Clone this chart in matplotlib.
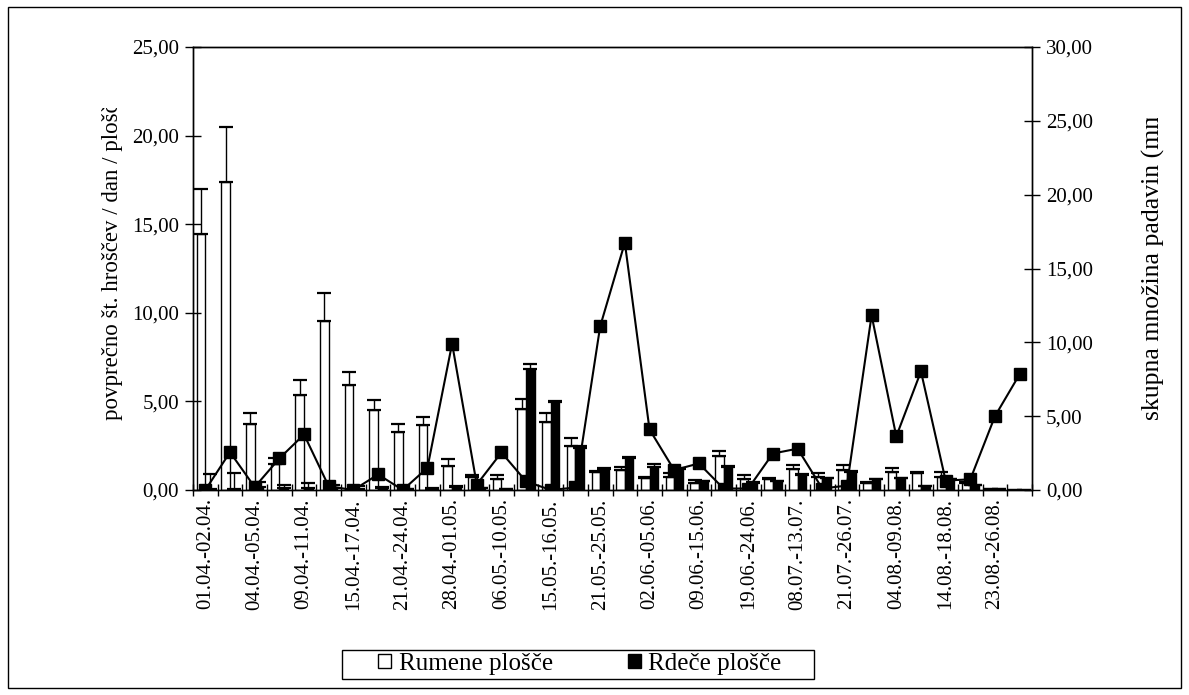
# povprečno število hroščev na ploščah in padavine
import matplotlib.pyplot as plt
from matplotlib.patches import Patch, Rectangle
import numpy as np

plt.rcParams['font.family'] = 'Liberation Serif'

# tick labels (every second period is labelled)
labels = ['01.04.-02.04.', '04.04.-05.04.', '09.04.-11.04.', '15.04.-17.04.',
          '21.04.-24.04.', '28.04.-01.05.', '06.05.-10.05.', '15.05.-16.05.',
          '21.05.-25.05.', '02.06.-05.06.', '09.06.-15.06.', '19.06.-24.06.',
          '08.07.-13.07.', '21.07.-26.07.', '04.08.-09.08.', '14.08.-18.08.',
          '23.08.-26.08.']

# rumene plošče - mean and upper error
rumene = [14.46, 17.36, 3.75, 1.45, 5.37, 9.55, 5.90, 4.50, 3.30, 3.65, 1.37, 0.75,
          0.62, 4.55, 3.82, 2.48, 1.03, 1.13, 0.66, 0.75, 0.38, 1.92, 0.60, 0.60,
          1.20, 0.72, 1.13, 0.38, 1.03, 0.98, 0.72, 0.38, 0.05, 0.00]
rumene_err = [2.54, 3.11, 0.60, 0.33, 0.83, 1.55, 0.75, 0.58, 0.40, 0.45, 0.38, 0.10,
              0.23, 0.57, 0.55, 0.47, 0.07, 0.19, 0.09, 0.19, 0.17, 0.28, 0.22, 0.06,
              0.20, 0.22, 0.26, 0.09, 0.19, 0.05, 0.28, 0.09, 0.00, 0.00]

# rdeče plošče - mean and upper error
rdece = [0.05, 0.05, 0.15, 0.10, 0.10, 0.10, 0.05, 0.10, 0.05, 0.05, 0.15, 0.10,
         0.05, 6.83, 4.95, 2.37, 1.19, 1.80, 1.32, 1.20, 0.50, 1.32, 0.42, 0.50,
         0.85, 0.66, 1.03, 0.60, 0.66, 0.22, 0.60, 0.28, 0.05, 0.00]
rdece_err = [0.85, 0.90, 0.30, 0.18, 0.28, 0.20, 0.15, 0.05, 0.03, 0.05, 0.05, 0.03,
             0.03, 0.29, 0.10, 0.11, 0.06, 0.05, 0.15, 0.05, 0.03, 0.05, 0.03, 0.03,
             0.03, 0.03, 0.03, 0.03, 0.03, 0.03, 0.03, 0.03, 0.00, 0.00]

# skupna množina padavin (mm)
padavine = [0.00, 2.56, 0.20, 2.14, 3.76, 0.25, 0.00, 1.05, 0.00, 1.50, 9.91, 0.37,
            2.54, 0.58, 0.00, 0.17, 11.08, 16.75, 4.10, 1.35, 1.80, 0.10, 0.10, 2.47,
            2.80, 0.10, 0.30, 11.83, 3.63, 8.03, 0.64, 0.72, 5.00, 7.84]

W, H = 1189, 695
fig = plt.figure(figsize=(W / 100, H / 100), dpi=100)
ax = fig.add_axes([193 / W, 1 - 490 / H, (1032 - 193) / W, (490 - 47) / H])

x = np.arange(len(rumene))
w = 0.35
zeros = np.zeros(len(rumene))
ekw = dict(ecolor='black', elinewidth=1, capsize=5, capthick=1.6)
ax.bar(x - w / 2, rumene, w, color='white', edgecolor='black', linewidth=1,
       yerr=[zeros, rumene_err], error_kw=ekw)
ax.bar(x + w / 2, rdece, w, color='black', edgecolor='black', linewidth=1,
       yerr=[zeros, rdece_err], error_kw=ekw)

ax.set_xlim(-0.5, len(rumene) - 0.5)
ax.set_ylim(0, 25)
ax.set_yticks(np.arange(0, 26, 5))
ax.set_yticklabels([f'{v:.2f}'.replace('.', ',') for v in np.arange(0, 26, 5)], fontsize=15)
ax.set_xticks(np.arange(0, len(rumene), 2))
ax.set_xticklabels(labels, rotation=90, fontsize=15)
ax.set_xticks(np.arange(-0.5, len(rumene), 1), minor=True)
ax.tick_params(axis='x', which='major', length=0, pad=6)
ax.tick_params(axis='x', which='minor', direction='inout', length=9, width=1)
ax.tick_params(axis='y', direction='inout', length=12, width=1, pad=4)

ax2 = ax.twinx()
ax2.plot(x, padavine, color='black', lw=1.5, marker='s', ms=8)
ax2.set_ylim(0, 30)
ax2.set_yticks(np.arange(0, 31, 5))
ax2.set_yticklabels([f'{v:.2f}'.replace('.', ',') for v in np.arange(0, 31, 5)], fontsize=15)
ax2.tick_params(axis='y', direction='inout', length=12, width=1, pad=4)

for a in (ax, ax2):
    for s in a.spines.values():
        s.set_linewidth(1)
        s.set_color('black')

# axis titles, cut off at the top like in the original (white boxes hide the rest)
fig.text(113 / W, 1 - 420 / H, 'povprečno št. hroščev / dan / plošče',
         rotation=90, ha='center', va='bottom', fontsize=16.5, zorder=1)
fig.text(1153 / W, 1 - 420 / H, 'skupna množina padavin (mm)',
         rotation=90, ha='center', va='bottom', fontsize=18.5, zorder=1)
fig.patches.append(Rectangle((92 / W, 1 - 108 / H), 36 / W, 99 / H, transform=fig.transFigure,
                             facecolor='white', edgecolor='none', zorder=2))
fig.patches.append(Rectangle((1135 / W, 1 - 118 / H), 36 / W, 109 / H, transform=fig.transFigure,
                             facecolor='white', edgecolor='none', zorder=2))

handles = [Patch(facecolor='white', edgecolor='black'), Patch(facecolor='black', edgecolor='black')]
fig.legend(handles, ['Rumene plošče', 'Rdeče plošče'], loc='center',
           bbox_to_anchor=(580 / W, 1 - 664 / H), ncol=2, fontsize=18,
           frameon=False, handlelength=0.52, handleheight=0.52, handletextpad=0.3,
           columnspacing=3.0, borderpad=0)
fig.patches.append(Rectangle((342 / W, 1 - 679 / H), (814 - 342) / W, 29 / H,
                             transform=fig.transFigure, fill=False,
                             edgecolor='black', linewidth=1, zorder=3))

fig.patches.append(Rectangle((8 / W, 7 / H), (W - 16) / W, (H - 14) / H,
                             transform=fig.transFigure, fill=False,
                             edgecolor='black', linewidth=1, zorder=3))

fig.savefig('out.png', dpi=100)
